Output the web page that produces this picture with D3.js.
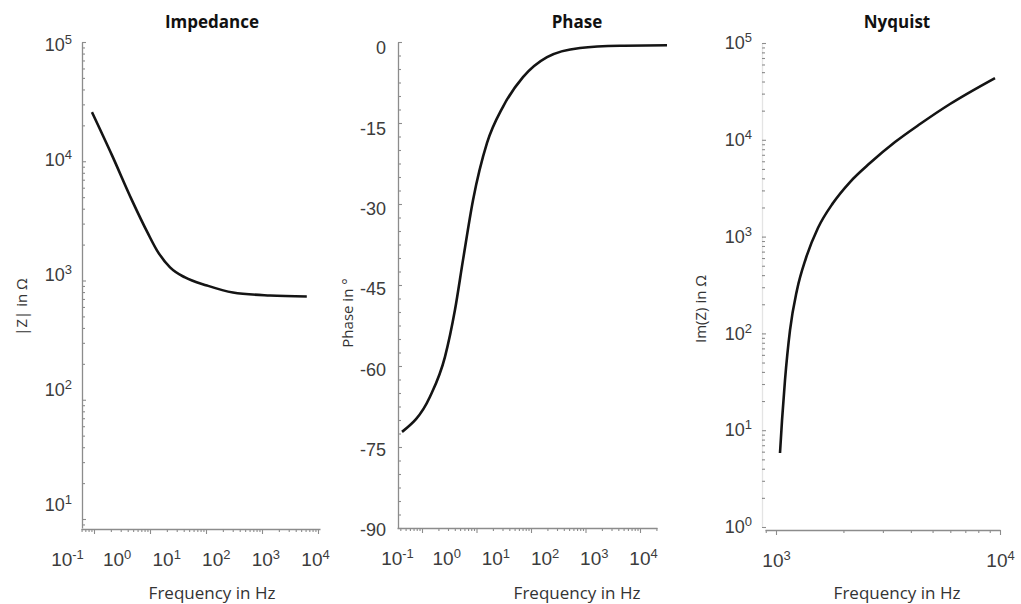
<!DOCTYPE html>
<html lang="en">
<head>
    <meta charset="UTF-8">
    <title>Impedance / Phase / Nyquist</title>
    <script src="https://d3js.org/d3.v7.min.js"></script>
    <style>
        body { margin: 0; background: #fff; }
        svg { display: block; font-family: "Open Sans", "DejaVu Sans", sans-serif; }
        .tick text { fill: #3c3c3c; }
    </style>
</head>
<body>
<svg id="chart" width="1021" height="604"></svg>
<script>
    // Bode magnitude
    const impFreq = [0.92, 2.1, 4.77, 9.2, 13.3, 22.8, 42.2, 104, 303, 1390, 6310];
    const impMag  = [25800, 11200, 4700, 2480, 1790, 1290, 1060, 908, 793, 748, 734];

    // Bode phase
    const phaseFreq = [0.43, 1.40, 2.64, 4.03, 5.65, 8.63, 15.6, 30.6, 71.3, 197, 793, 4300, 31300];
    const phaseDeg  = [-72.2, -65.7, -58.3, -49.6, -40.4, -29.3, -18.7, -12.0, -6.5, -2.8, -1.1, -0.7, -0.6];

    // Nyquist (log-log)
    const nyqRe = [1042, 1064, 1097, 1155, 1241, 1361, 1539, 1797, 2140, 2628, 3399, 4395, 5982, 9500];
    const nyqIm = [5.81, 12.7, 33.0, 108, 281, 601, 1227, 2223, 3664, 5754, 9480, 14550, 23440, 43450];

    // tick labels
    const freqDecades  = [0.1, 1, 10, 100, 1000, 10000];
    const impDecades   = [10, 100, 1000, 10000, 100000];
    const phaseLabels  = [0, -15, -30, -45, -60, -75, -90];
    const nyqXDecades  = [1000, 10000];
    const nyqYDecades  = [1, 10, 100, 1000, 10000, 100000];

    const svg = d3.select("#chart");

    // scale through two reference points, then stretched to the axis extent
    function logScale(v0, p0, v1, p1, extent) {
        const s = d3.scaleLog().domain([v0, v1]).range([p0, p1]);
        if (extent) s.domain([s.invert(extent[0]), s.invert(extent[1])]).range(extent);
        return s;
    }
    function isDecade(d) {
        const l = Math.log10(d);
        return Math.abs(l - Math.round(l)) < 1e-9;
    }
    function powLabel(sel) {
        sel.selectAll("text").each(function(d) {
            const t = d3.select(this).text("");
            t.append("tspan").text("10");
            t.append("tspan").attr("dy", "-0.55em").attr("font-size", "13px")
                .text(Math.round(Math.log10(d)));
        });
    }
    function styleAxis(g, color) {
        g.select(".domain").attr("stroke", color).attr("stroke-width", 1.3);
        g.selectAll(".tick line").attr("stroke", color).attr("stroke-width", 1.1);
    }

    function drawPanel(p) {
        const g = svg.append("g");

        // x ticks (outward)
        const xMinor = p.x.ticks().filter(d => !isDecade(d));
        const xMajor = p.x.ticks().filter(d => isDecade(d));
        const gxm = g.append("g").attr("transform", `translate(0,${p.xAxisY})`)
            .call(d3.axisBottom(p.x).tickValues(xMinor).tickSize(3).tickSizeOuter(0).tickFormat(""));
        styleAxis(gxm, "#8c8c8c");
        const gxM = g.append("g").attr("transform", `translate(0,${p.xAxisY})`)
            .call(d3.axisBottom(p.x).tickValues(xMajor).tickSize(5).tickSizeOuter(0).tickFormat(""));
        gxM.select(".domain").remove();
        styleAxis(gxM, "#8c8c8c");

        // y ticks (inward)
        const gym = g.append("g").attr("transform", `translate(${p.yAxisX},0)`)
            .call(d3.axisLeft(p.y).tickValues(p.yMinor).tickSize(-3).tickSizeOuter(0).tickFormat(""));
        styleAxis(gym, p.yAxisColor);
        gym.selectAll(".tick line").attr("stroke", "#8c8c8c");
        const gyM = g.append("g").attr("transform", `translate(${p.yAxisX},0)`)
            .call(d3.axisLeft(p.y).tickValues(p.yMajor).tickSize(-4).tickSizeOuter(0).tickFormat(""));
        gyM.select(".domain").remove();
        styleAxis(gyM, "#8c8c8c");

        // tick labels
        const gxl = g.append("g").attr("transform", `translate(0,${p.xAxisY})`)
            .call(d3.axisBottom(p.xLab).tickValues(p.xLabVals).tickSize(0).tickPadding(24));
        gxl.select(".domain").remove();
        gxl.selectAll("text").attr("font-size", "19px");
        powLabel(gxl);

        const gyl = g.append("g").attr("transform", `translate(${p.yAxisX},0)`)
            .call(d3.axisLeft(p.yLab).tickValues(p.yLabVals).tickSize(0).tickPadding(p.yPad)
                .tickFormat(d => String(d)));
        gyl.select(".domain").remove();
        gyl.selectAll("text").attr("font-size", "18px");
        if (p.yPow) powLabel(gyl);

        // curve
        const line = d3.line().x(d => p.x(d[0])).y(d => p.y(d[1])).curve(d3.curveMonotoneX);
        g.append("path").datum(d3.zip(p.xs, p.ys))
            .attr("d", line).attr("fill", "none")
            .attr("stroke", "#141414").attr("stroke-width", 2.6);

        // titles
        g.append("text").attr("x", p.titleX).attr("y", 28).attr("text-anchor", "middle")
            .attr("font-size", "17px").attr("font-weight", "bold").attr("fill", "#111").text(p.title);
        g.append("text").attr("x", p.titleX).attr("y", 599).attr("text-anchor", "middle")
            .attr("font-size", "17px").attr("fill", "#333").text("Frequency in Hz");
        g.append("text").attr("transform", `translate(${p.yTitleX},${p.yTitleY}) rotate(-90)`)
            .attr("text-anchor", "middle").attr("font-size", "15px").attr("fill", "#333").text(p.yTitle);
    }

    // Impedance
    const impY = logScale(1e5, 42, 10, 519, [528, 42]);
    drawPanel({
        title: "Impedance", titleX: 212,
        x: logScale(1, 94, 1e4, 318, [81, 320]),
        xLab: logScale(0.1, 67, 1e4, 315), xLabVals: freqDecades,
        y: impY, yMajor: impDecades, yMinor: impY.ticks().filter(d => !isDecade(d)),
        yLab: logScale(1e5, 45, 10, 505), yLabVals: impDecades, yPow: true, yPad: 10,
        xAxisY: 529, yAxisX: 82, yAxisColor: "#8c8c8c",
        xs: impFreq, ys: impMag,
        yTitle: "|Z| in \u03A9", yTitleX: 27, yTitleY: 307
    });

    // Phase
    drawPanel({
        title: "Phase", titleX: 577,
        x: logScale(1, 422, 1e4, 640, [397, 657]),
        xLab: logScale(0.1, 397, 1e4, 643), xLabVals: freqDecades,
        y: d3.scaleLinear().domain([-90, 0]).range([528, 42]),
        yMajor: phaseLabels, yMinor: d3.range(-87.5, 0, 2.5).filter(d => d % 15 !== 0),
        yLab: d3.scaleLinear().domain([-90, 0]).range([530, 48]), yLabVals: phaseLabels, yPow: false, yPad: 12,
        xAxisY: 528, yAxisX: 398, yAxisColor: "#8c8c8c",
        xs: phaseFreq, ys: phaseDeg,
        yTitle: "Phase in \u00B0", yTitleX: 353, yTitleY: 313
    });

    // Nyquist
    const nyqY = logScale(1e5, 43, 1, 527);
    drawPanel({
        title: "Nyquist", titleX: 897,
        x: logScale(1e3, 776, 1e4, 1000, [765, 1000]),
        xLab: logScale(1e3, 776, 1e4, 1000), xLabVals: nyqXDecades,
        y: nyqY, yMajor: nyqYDecades, yMinor: nyqY.ticks().filter(d => !isDecade(d)),
        yLab: nyqY, yLabVals: nyqYDecades, yPow: true, yPad: 10,
        xAxisY: 530, yAxisX: 762, yAxisColor: "#e4e4e4",
        xs: nyqRe, ys: nyqIm,
        yTitle: "Im(Z) in \u03A9", yTitleX: 706, yTitleY: 309
    });
</script>
</body>
</html>
